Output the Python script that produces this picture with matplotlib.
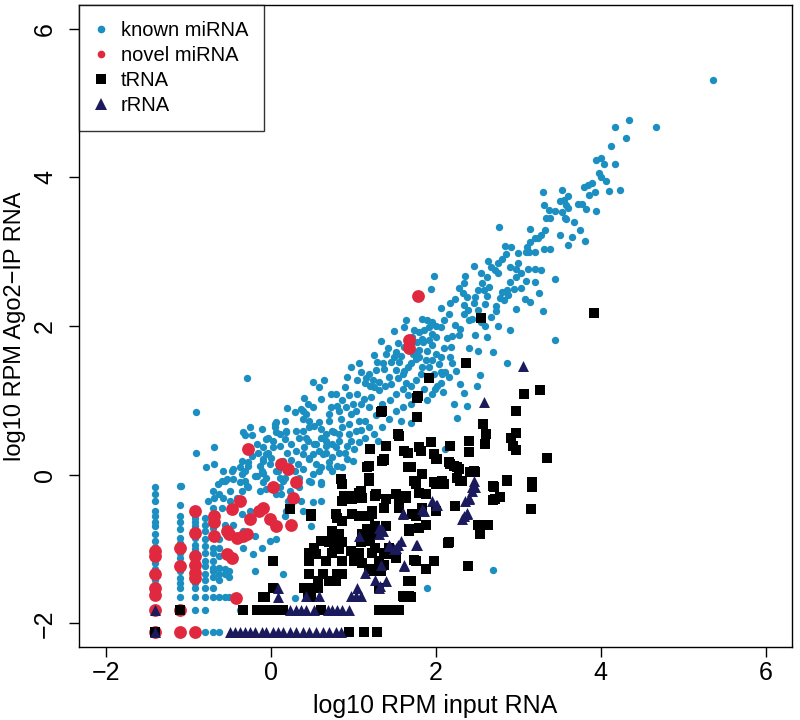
import matplotlib
matplotlib.use('Agg')
import matplotlib.pyplot as plt
from matplotlib.lines import Line2D

plt.rcParams['font.family'] = ['Liberation Sans', 'DejaVu Sans']

# log10 RPM (input RNA, Ago2-IP RNA)
known_pts = [
    # upper tail
    (5.36, 5.31), (4.34, 4.77), (4.18, 4.68), (4.67, 4.68), (4.31, 4.53), (4.13, 4.43), (3.95, 4.23),
    (4.01, 4.26), (4.04, 4.18), (4.18, 4.18), (3.98, 4.06), (4.01, 4.00), (4.07, 3.95), (3.80, 3.87),
    (3.85, 3.90), (3.90, 3.93), (3.86, 3.77), (3.93, 3.81), (4.10, 3.82), (4.23, 3.83), (3.53, 3.83),
    (3.30, 3.81), (3.61, 3.75), (3.56, 3.70), (3.51, 3.68), (3.58, 3.63), (3.61, 3.59), (3.53, 3.54),
    (3.57, 3.46), (3.72, 3.64), (3.78, 3.65), (3.82, 3.58), (3.32, 3.63), (3.38, 3.56), (3.34, 3.45),
    (3.39, 3.46), (3.68, 3.40), (3.58, 3.44), (3.33, 3.30), (3.28, 3.23), (3.24, 3.19), (3.20, 3.18),
    (3.14, 3.31), (3.14, 3.13), (3.51, 3.22), (3.81, 3.15), (3.60, 3.09), (3.31, 3.04), (3.39, 3.04),
    (3.21, 3.00), (3.13, 3.00), (3.65, 3.20), (3.75, 3.30), (3.45, 3.55), (3.95, 3.55),
    # upper band
    (2.77, 3.33), (3.11, 3.07), (2.84, 3.08), (2.92, 3.07), (2.85, 2.97), (3.00, 2.99), (3.10, 3.00),
    (2.80, 2.90), (2.76, 2.85), (2.64, 2.88), (2.47, 2.81), (2.67, 2.80), (2.72, 2.76), (2.76, 2.71),
    (2.90, 2.80), (2.97, 2.77), (3.04, 2.72), (3.12, 2.77), (3.21, 2.77), (3.28, 2.75), (2.98, 2.66),
    (3.10, 2.61), (3.45, 2.63), (2.62, 2.66), (2.56, 2.58), (2.65, 2.53), (2.59, 2.48), (2.52, 2.49),
    (2.36, 2.67), (2.35, 2.58), (1.98, 2.68), (1.95, 2.50), (2.80, 2.46), (2.86, 2.49), (2.88, 2.42),
    (2.78, 2.38), (2.83, 2.35), (3.04, 2.51), (3.08, 2.36), (3.14, 2.32), (2.97, 2.23), (2.73, 2.27),
    (2.73, 2.21), (2.33, 2.45), (2.38, 2.39), (2.48, 2.39), (2.46, 2.31), (2.51, 2.22), (2.23, 2.36),
    (2.18, 2.31), (2.07, 2.24), (2.34, 2.28), (2.39, 2.22), (2.67, 2.12), (2.76, 2.00), (2.60, 2.00),
    (2.40, 2.08), (2.44, 2.09), (2.34, 2.16), (2.16, 2.16), (3.45, 1.81), (2.87, 1.51), (2.54, 1.34),
    (2.48, 1.88), (2.41, 1.70), (2.51, 1.66), (2.28, 1.88), (2.20, 1.87), (2.19, 1.72), (2.17, 1.58),
    (2.20, 1.51), (2.06, 1.58), (2.04, 1.49), (2.12, 1.38), (2.25, 1.40), (2.06, 1.38), (1.84, 2.09),
    (1.90, 2.08), (1.96, 2.06), (2.00, 2.00), (2.06, 1.99), (1.92, 1.99), (1.86, 1.95), (1.80, 1.92),
    (1.74, 1.95), (1.96, 1.90), (2.00, 1.86), (1.92, 1.81), (1.84, 1.83), (1.78, 1.79), (1.96, 1.74),
    (1.76, 1.65), (1.64, 2.08), (1.62, 1.99), (1.72, 1.86), (1.80, 1.59), (1.84, 1.45), (1.92, 1.45),
    (1.96, 1.54), (1.98, 1.36), (2.08, 1.36), (1.60, 1.36), (1.64, 1.23), (2.06, 1.23), (1.99, 1.16),
    (2.16, 1.31), (2.38, 0.93), (2.26, 0.77), (2.11, 0.35), (2.02, 1.19), (2.09, 1.11), (1.96, 1.09),
    (2.55, 2.05), (2.60, 2.30), (2.90, 2.60), (2.95, 2.50), (3.20, 2.60), (3.00, 2.85), (2.55, 2.72),
    (2.28, 2.52), (2.62, 2.40), (2.30, 1.96), (2.24, 2.02), (2.10, 2.08), (2.14, 1.84), (2.10, 1.70),
    (2.00, 1.62), (1.90, 1.66), (1.88, 1.55), (2.70, 1.65), (2.62, 1.85), (2.90, 1.95), (3.30, 2.20),
    (3.25, 2.45), (2.30, 1.22), (2.22, 0.95), (2.35, 1.10), (2.50, 1.20),
    # middle band
    (1.49, 1.93), (1.34, 1.80), (1.52, 1.65), (1.50, 1.59), (1.40, 1.63), (1.25, 1.61), (1.29, 1.52),
    (1.36, 1.50), (1.38, 1.43), (1.28, 1.41), (1.19, 1.36), (1.07, 1.50), (0.97, 1.45), (0.93, 1.31),
    (1.05, 1.27), (1.15, 1.23), (1.21, 1.20), (1.25, 1.18), (1.31, 1.14), (1.39, 1.20), (1.44, 1.31),
    (1.52, 1.41), (1.56, 1.52), (1.66, 1.45), (1.73, 1.63), (1.76, 1.56), (1.80, 1.68), (1.85, 1.79),
    (1.82, 1.36), (1.76, 1.27), (1.70, 1.20), (1.60, 1.16), (1.52, 1.09), (1.66, 1.07), (1.60, 0.91),
    (1.52, 0.86), (1.44, 0.75), (1.28, 0.80), (1.19, 0.91), (1.13, 1.02), (1.05, 1.09), (0.95, 1.07),
    (0.87, 1.00), (0.81, 0.93), (0.73, 0.91), (0.71, 0.82), (0.83, 0.86), (0.91, 0.91), (0.97, 0.82),
    (1.03, 0.86), (1.07, 0.73), (1.15, 0.73), (1.19, 0.64), (1.03, 0.59), (0.95, 0.55), (0.87, 0.64),
    (0.83, 0.55), (0.75, 0.59), (0.67, 0.55), (0.61, 0.62), (0.59, 0.71), (0.53, 0.66), (0.47, 0.73),
    (0.39, 0.75), (0.37, 0.89), (0.41, 1.04), (0.51, 1.25), (0.59, 1.18), (0.65, 1.27), (0.73, 1.09),
    (0.79, 1.09), (0.61, 1.02), (0.51, 0.91), (0.43, 0.82), (0.47, 0.64), (0.39, 0.59), (0.35, 0.50),
    (0.45, 0.46), (0.53, 0.41), (0.61, 0.50), (0.67, 0.39), (0.75, 0.41), (0.83, 0.46), (0.93, 0.39),
    (1.01, 0.35), (1.07, 0.44), (0.83, 0.30), (0.75, 0.24), (0.67, 0.30), (0.59, 0.32), (0.51, 0.28),
    (0.47, 0.21), (0.39, 0.28), (0.31, 0.32), (0.25, 0.41), (0.17, 0.48), (0.11, 0.55), (0.07, 0.71),
    (0.19, 0.59), (0.03, 0.37), (-0.05, 0.28), (-0.09, 0.19), (-0.01, 0.14), (-0.11, 0.05), (-0.05, -0.04),
    (0.09, 0.05), (0.17, -0.04), (0.11, -0.17), (0.07, -0.26), (0.23, -0.22), (0.39, 0.08), (0.51, 0.01),
    (0.61, 0.10), (0.71, 0.17), (0.81, 0.12), (0.93, 0.21), (0.49, -0.10), (0.61, -0.13), (0.35, -0.17),
    (0.27, -0.31), (1.10, 1.38), (1.16, 1.30), (1.24, 1.28), (1.32, 1.25), (1.46, 1.22), (1.55, 1.30),
    (1.62, 1.40), (1.70, 1.50), (1.58, 1.60), (1.46, 1.52), (1.42, 1.70), (1.55, 1.78), (1.62, 1.72),
    (1.70, 1.76), (1.86, 1.15), (1.90, 1.00), (1.70, 0.95), (1.45, 1.00), (1.35, 0.95), (1.22, 1.05),
    (1.10, 0.95), (1.00, 0.95), (0.90, 1.18), (0.85, 0.75), (0.95, 0.68), (1.10, 0.60), (1.25, 0.55),
    (1.35, 0.65), (1.30, 0.45), (1.15, 0.50), (0.98, 0.46), (0.90, 0.30), (0.75, 0.05), (0.87, 0.10),
    (1.00, 0.18), (0.55, 0.15), (0.25, 0.20), (0.30, 0.05), (0.20, 0.30), (0.00, 0.22), (-0.15, 0.30),
    (0.45, 0.95), (0.30, 0.85), (0.20, 0.90), (1.70, 0.70), (1.58, 0.72),
    # lower-left cloud
    (-0.90, 0.84), (-0.90, 0.30), (-0.68, 0.38), (-0.78, 0.11), (-0.68, 0.15), (-0.33, 0.57), (-0.25, 0.64),
    (-0.31, 0.53), (0.05, 0.64), (-0.03, 0.50), (0.03, 0.46), (-0.09, 0.37), (-0.03, 0.30), (0.11, 0.39),
    (0.19, 0.57), (0.15, 0.19), (-0.35, 0.19), (-0.27, 0.17), (-0.23, 0.26), (-0.37, 0.10), (-0.31, 0.05),
    (-0.45, 0.08), (-0.58, 0.05), (-0.53, -0.06), (-0.59, -0.08), (-0.13, 0.12), (-0.17, -0.01),
    (-0.09, 0.03), (0.07, 0.05), (0.11, -0.04), (-0.09, -0.10), (-0.05, -0.19), (-0.29, -0.15),
    (-0.35, -0.22), (-0.41, -0.31), (-0.49, -0.22), (-0.62, -0.26), (-0.68, -0.31), (-1.08, -0.15),
    (-0.13, -0.22), (-0.47, 0.05), (-0.35, 0.01), (-0.23, 0.53), (-0.11, 0.62), (0.05, 0.68), (0.07, 0.57),
    (-0.05, 0.48), (-0.17, 0.41), (-0.27, 0.12), (-0.09, 0.21), (-0.11, 0.03), (-0.19, -0.01), (-0.31, -0.08),
    (-0.27, -0.17), (-0.37, -0.10), (-0.45, -0.06), (-0.55, -0.08), (-0.64, -0.13), (-0.70, -0.22),
    (-0.58, -0.31), (-0.49, -0.35), (-0.59, -0.44), (-0.70, -0.44), (-0.76, -0.35), (-0.55, -0.67),
    (-0.45, -0.67), (-0.35, -0.53), (-0.25, -0.49), (-0.33, -0.76), (-0.19, -0.82), (-0.33, -0.98),
    (-0.21, -1.07), (-0.11, -0.98), (-0.01, -0.89), (0.07, -0.87), (0.15, -1.34), (-0.19, -1.30),
    (0.39, 0.86), (0.17, 0.73), (0.31, 0.59), (0.43, 0.50), (0.41, 0.37), (0.55, 0.41), (0.67, 0.46),
    (0.77, 0.57), (0.71, 0.73), (0.79, 0.37), (0.63, 0.28), (0.47, 0.23), (0.33, 0.14), (0.59, 0.05),
    (0.71, 0.10), (0.47, -0.08), (0.61, -0.10), (0.35, -0.04), (0.15, -0.08), (0.13, -0.26), (0.21, -0.35),
    (0.37, -0.35), (0.51, -0.37), (0.61, -0.35), (0.39, -0.49), (0.49, -0.69), (0.19, -0.49), (0.17, -0.55),
    (0.29, -1.66), (-0.28, 1.30), (2.69, -1.28), (1.90, -1.52),
    # low-count columns
    (-1.40, -0.17), (-1.40, -0.26), (-1.40, -0.35), (-1.40, -0.48), (-1.40, -0.55), (-1.40, -0.64),
    (-1.40, -0.69), (-1.40, -0.80), (-1.40, -0.89), (-1.40, -0.97), (-1.40, -1.12), (-1.40, -1.19),
    (-1.40, -1.27), (-1.40, -1.41), (-1.40, -1.48),
    (-1.10, -0.15), (-1.10, -0.40), (-1.10, -0.55), (-1.10, -0.64), (-1.10, -0.73), (-1.10, -0.85),
    (-1.10, -0.92), (-1.10, -1.05), (-1.10, -1.12), (-1.10, -1.30), (-1.10, -1.39), (-1.10, -1.46),
    (-1.10, -1.52), (-1.10, -1.64),
    (-0.92, -0.58), (-0.92, -0.64), (-0.92, -0.69), (-0.92, -0.85), (-0.92, -0.94), (-0.92, -1.00),
    (-0.92, -1.14), (-0.92, -1.16), (-0.92, -1.27), (-0.92, -1.34), (-0.92, -1.46), (-0.92, -1.52),
    (-0.92, -1.64), (-0.92, -1.82),
    (-0.80, -0.58), (-0.80, -0.67), (-0.80, -0.76), (-0.80, -0.87), (-0.80, -0.96), (-0.80, -1.05),
    (-0.80, -1.16), (-0.80, -1.23), (-0.80, -1.34), (-0.80, -1.42), (-0.80, -1.52), (-0.80, -1.64),
    (-0.80, -1.82), (-0.80, -2.12),
    (-0.70, -0.53), (-0.70, -0.64), (-0.70, -0.71), (-0.70, -0.85), (-0.70, -0.98), (-0.70, -1.05),
    (-0.70, -1.16), (-0.70, -1.25), (-0.70, -1.30), (-0.70, -1.37), (-0.70, -1.52), (-0.70, -1.64),
    (-0.70, -2.12),
    (-0.62, -0.87), (-0.62, -0.98), (-0.62, -1.09), (-0.62, -1.25), (-0.62, -1.34), (-0.62, -1.42),
    (-0.62, -1.64), (-0.62, -2.12),
    (-0.55, -1.27), (-0.55, -1.34), (-0.55, -1.64), (-0.50, -1.30), (-0.50, -1.37), (-0.50, -1.64),
    (-0.37, -1.82),
]

novel_pts = [
    (-1.40, -1.03), (-1.40, -1.09), (-1.40, -1.34), (-1.40, -1.52), (-1.40, -1.62), (-1.40, -1.82),
    (-1.40, -2.12), (-1.10, -0.98), (-1.10, -1.23), (-1.10, -1.82), (-1.10, -2.12),
    (-0.92, -0.49), (-0.92, -0.78), (-0.92, -1.09), (-0.92, -1.21), (-0.92, -1.32), (-0.92, -1.39),
    (-0.92, -2.12), (-0.68, -0.55), (-0.68, -0.64), (-0.68, -0.82),
    (-0.53, -0.76), (-0.51, -0.80), (-0.47, -0.46), (-0.37, -0.35), (-0.41, -0.85), (-0.33, -0.82),
    (-0.29, -0.80), (-0.53, -1.07), (-0.47, -1.12), (-0.27, 0.35), (-0.25, -0.60), (-0.14, -0.49),
    (-0.09, -0.44), (0.03, -0.17), (-0.01, -0.60), (0.07, -0.69), (0.13, 0.14), (0.21, 0.08),
    (0.31, -0.10), (0.27, -0.31), (0.25, -0.67), (-0.42, -1.66),
    (1.79, 2.40), (1.68, 1.81), (1.68, 1.70),
]

trna_pts = [
    (3.92, 2.18), (2.55, 2.11), (2.37, 1.50), (1.92, 1.30), (3.27, 1.14), (3.07, 1.09), (2.98, 0.86),
    (2.57, 0.68), (2.61, 0.55), (2.60, 0.42), (2.98, 0.56), (2.92, 0.50), (2.94, 0.39), (2.98, 0.33),
    (3.35, 0.22), (2.40, 0.45), (2.40, 0.31), (2.18, 0.39), (1.94, 0.44), (1.98, 0.28), (2.00, 0.21),
    (2.16, 0.17), (2.22, 0.12), (2.28, 0.08), (2.26, -0.04), (2.30, -0.08), (2.42, 0.04), (2.48, 0.04),
    (1.98, -0.10), (2.08, -0.08), (2.87, -0.07), (2.71, -0.16), (3.17, -0.10), (3.17, -0.16),
    (2.72, -0.33), (2.78, -0.30), (3.16, -0.46), (2.24, -0.42), (2.54, -0.69), (2.64, -0.67),
    (2.52, -0.67), (2.54, -0.80), (2.39, -1.22), (2.15, -0.92), (2.46, 0.05), (2.86, -0.08),
    (2.70, -0.15), (2.70, -0.34),
    (1.34, 0.85), (1.79, 1.06), (1.78, 0.78), (1.78, 1.04), (1.35, 0.86), (1.21, 0.35), (1.40, 0.39),
    (1.62, 0.32), (1.82, 0.32), (1.80, 0.37), (1.38, 0.21), (1.17, 0.10), (1.66, 0.10), (1.70, 0.10),
    (1.19, -0.04), (0.85, -0.06), (1.84, 0.01), (1.74, -0.08), (1.28, -0.26), (1.07, -0.24),
    (0.89, -0.28), (1.52, -0.26), (1.64, -0.28), (1.80, -0.24), (1.54, 0.55), (1.56, 0.52), (1.66, 0.30),
    (1.35, 0.19), (1.38, 0.20), (1.19, 0.12), (1.19, -0.08), (2.02, 0.21), (2.18, 0.14), (2.26, 0.10),
    (2.32, -0.08), (2.00, -0.10),
    (0.87, -0.13), (1.09, -0.22), (1.03, -0.28), (1.27, -0.28), (0.99, -0.33), (1.56, -0.28),
    (1.76, -0.13), (1.88, -0.26), (2.00, -0.13), (2.10, -0.13), (2.00, -0.49), (1.76, -0.55),
    (1.88, -0.67), (1.68, -0.73), (2.16, -0.91), (1.98, -1.16), (1.88, -1.27), (1.76, -1.16),
    (1.56, -0.31), (1.64, -0.31), (1.40, -0.33), (1.56, -0.44), (1.38, -0.44), (1.72, -0.53),
    (1.84, -0.44), (1.68, -0.76), (1.80, -0.71), (1.40, -1.07), (1.38, -1.21), (1.74, -1.14),
    (0.49, -0.53), (0.79, -0.53), (0.81, -0.58), (0.99, -0.53), (1.07, -0.55), (1.19, -0.55),
    (1.23, -0.53), (1.27, -0.69), (1.40, -0.69), (1.17, -0.73), (1.23, -0.80), (1.21, -0.87),
    (0.75, -0.76), (0.83, -0.80), (0.79, -0.87), (0.71, -0.91), (0.87, -0.91), (0.77, -0.98),
    (0.83, -1.00), (0.61, -0.89), (0.53, -0.98), (0.47, -1.05), (0.75, -1.05), (0.67, -1.16),
    (0.87, -1.16), (1.01, -1.16), (1.11, -1.18), (0.97, -1.03), (1.07, -1.05), (1.09, -0.91),
    (1.27, -0.98), (1.23, -1.05), (1.38, -1.05), (1.44, -0.98), (1.52, -1.12), (1.31, -1.16),
    (1.19, -1.27), (1.25, -1.30), (1.34, -1.30), (0.47, -1.34), (0.81, -1.34), (0.57, -1.43),
    (0.79, -1.43), (0.41, -1.52), (0.45, -1.63), (1.31, -1.52), (1.66, -1.43), (1.70, -1.43),
    (1.60, -1.63), (1.68, -1.63), (1.62, -1.64), (1.70, -1.64),
    (0.23, -0.46), (0.49, -0.55), (0.87, -0.62), (0.91, -0.28), (1.11, -0.31), (1.03, -0.31),
    (0.87, -0.35), (1.23, -0.49), (1.11, -0.80), (1.19, -0.89), (1.27, -0.71), (0.71, -0.89),
    (0.03, -1.16), (0.47, -1.16), (0.63, -1.34), (0.87, -1.34), (0.71, -1.43), (0.55, -1.07),
    (-0.09, -1.64), (-0.07, -1.64), (0.49, -1.64), (0.03, -1.52), (0.47, -1.52), (0.57, -1.52),
    (-0.33, -1.82), (-0.17, -1.82), (-0.05, -1.82), (0.07, -1.82), (0.15, -1.82), (0.61, -1.82),
    (1.31, -1.82), (1.35, -1.82), (1.40, -1.82), (1.44, -1.82), (1.48, -1.82), (1.50, -1.82),
    (1.56, -1.82), (0.95, -2.12), (1.13, -2.12), (1.29, -2.12),
    (-1.10, -1.82), (-1.40, -2.12),
]

rrna_pts = [
    (3.06, 1.46), (2.59, 0.98), (2.46, -0.08), (2.48, -0.16), (2.44, -0.22), (2.40, -0.31), (2.36, -0.35),
    (2.34, -0.55), (2.38, -0.53), (2.44, -0.17), (2.40, -0.33), (2.38, -0.51), (2.32, -0.60),
    (1.96, -0.35), (2.02, -0.41), (2.00, -0.40), (1.86, -0.49), (1.84, -0.46), (1.60, -0.51),
    (1.60, -0.53), (1.31, -0.71), (1.36, -0.76), (1.34, -0.73), (1.31, -0.80), (1.07, -0.82),
    (1.44, -0.94), (1.52, -0.98), (1.58, -0.89), (1.54, -0.94), (1.50, -1.00), (1.44, -0.96),
    (1.78, -0.94), (1.76, -0.94), (1.62, -1.21), (1.62, -1.23), (1.34, -1.21), (1.15, -1.32),
    (1.27, -1.41), (1.40, -1.43), (1.33, -1.49), (1.31, -1.52), (1.05, -1.52), (0.97, -1.63),
    (1.03, -1.63), (1.09, -1.63), (0.59, -1.63), (0.43, -1.63), (0.09, -1.64), (0.09, -1.52),
    (0.23, -1.82), (0.31, -1.82), (0.37, -1.82), (0.43, -1.82), (0.53, -1.82), (0.69, -1.82),
    (0.75, -1.82), (0.81, -1.82), (0.87, -1.82), (0.95, -1.82),
    (-0.49, -2.12), (-0.43, -2.12), (-0.37, -2.12), (-0.31, -2.12), (-0.25, -2.12), (-0.19, -2.12),
    (-0.11, -2.12), (-0.05, -2.12), (0.03, -2.12), (0.09, -2.12), (0.15, -2.12), (0.23, -2.12),
    (0.31, -2.12), (0.39, -2.12), (0.47, -2.12), (0.55, -2.12), (0.63, -2.12), (0.71, -2.12),
    (0.79, -2.12), (0.85, -2.12),
    (-1.40, -1.82), (-1.40, -2.12),
]

labels = ['known miRNA', 'novel miRNA', 'tRNA', 'rRNA']
colors = ['#1b8ec2', '#e0283f', '#000000', '#1a1a5c']

fig = plt.figure(figsize=(8, 7.2), dpi=100)
ax = fig.add_axes([0.099, 0.101, 0.891, 0.892])

kx, ky = zip(*known_pts)
nx, ny = zip(*novel_pts)
tx, ty = zip(*trna_pts)
rx, ry = zip(*rrna_pts)

ax.scatter(kx, ky, s=28, c=colors[0], marker='o', linewidths=0, zorder=2)
ax.scatter(nx, ny, s=85, c=colors[1], marker='o', linewidths=0, zorder=3)
ax.scatter(tx, ty, s=46, c=colors[2], marker='s', linewidths=0, zorder=4)
ax.scatter(rx, ry, s=62, c=colors[3], marker='^', linewidths=0, zorder=5)

ax.set_xlim(-2.32, 6.32)
ax.set_ylim(-2.32, 6.32)
ax.set_xticks([-2, 0, 2, 4, 6])
ax.set_yticks([-2, 0, 2, 4, 6])
ax.tick_params(direction='out', length=7, width=1, labelsize=18)
ax.tick_params(axis='x', pad=3)
ax.tick_params(axis='y', pad=9, labelrotation=90)
for t in ax.get_yticklabels():
    t.set_va('center')
for sp in ax.spines.values():
    sp.set_linewidth(1)

ax.set_xlabel('log10 RPM input RNA', fontsize=18, labelpad=6)
ax.set_ylabel('log10 RPM Ago2\u2212IP RNA', fontsize=17, labelpad=5)

handles = [
    Line2D([], [], ls='none', marker='o', ms=5.5, mew=0, color=colors[0]),
    Line2D([], [], ls='none', marker='o', ms=5.5, mew=0, color=colors[1]),
    Line2D([], [], ls='none', marker='s', ms=6.5, mew=0, color=colors[2]),
    Line2D([], [], ls='none', marker='^', ms=8, mew=0, color=colors[3]),
]
leg = ax.legend(handles, labels, loc='upper left', fontsize=14.5, frameon=True, fancybox=False,
                edgecolor='black', borderaxespad=0, handlelength=0.6, handletextpad=0.7,
                labelspacing=0.3, borderpad=0.78)
leg.get_frame().set_linewidth(1)

fig.savefig('out.png', dpi=100)
